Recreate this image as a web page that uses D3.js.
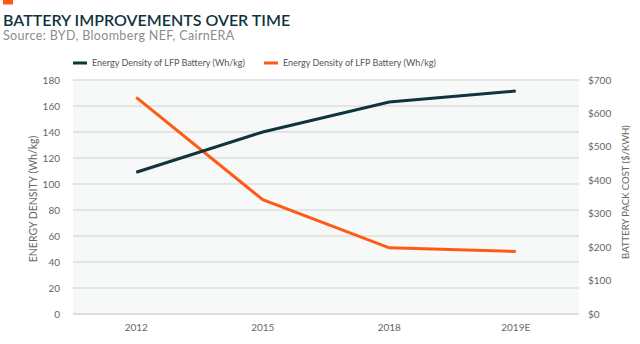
<!DOCTYPE html>
<html>
<head>
<meta charset="utf-8">
<script src="https://cdn.jsdelivr.net/npm/d3@7"></script>
<style>
  body { margin: 0; background: #fff; }
  svg text { font-family: Lato, "Open Sans", sans-serif; }
</style>
</head>
<body>
<div id="chart"></div>
<script>
let years = ["2012", "2015", "2018", "2019E"];
let densityVals = [109, 140, 163, 171.5];
let costVals = [648, 342, 198, 187];
let leftTicks = d3.range(0, 181, 20);
let rightTicks = d3.range(0, 701, 100);
let legendNames = ["Energy Density of LFP Battery (Wh/kg)", "Energy Density of LFP Battery (Wh/kg)"];

let width = 640, height = 344;
let margin = { top: 80, right: 61, bottom: 30, left: 73 };
let plotW = width - margin.left - margin.right;
let plotH = 314 - margin.top;

let dark = "#0f343d", orange = "#ff5a14";

let svg = d3.select("#chart").append("svg")
    .attr("width", width)
    .attr("height", height);

// header
svg.append("rect").attr("x", 3).attr("y", 0).attr("width", 10).attr("height", 4.5).attr("fill", orange);
svg.append("text")
    .attr("x", 3).attr("y", 26)
    .style("font-size", "16px").style("font-weight", "600")
    .style("fill", dark)
    .text("BATTERY IMPROVEMENTS OVER TIME");
svg.append("text")
    .attr("x", 3).attr("y", 40)
    .style("font-size", "12.5px")
    .style("letter-spacing", "0.35px")
    .style("fill", "#8c8c8c")
    .text("Source: BYD, Bloomberg NEF, CairnERA");

let g = svg.append("g").attr("transform", "translate(" + margin.left + "," + margin.top + ")");

let x = d3.scaleBand().domain(years).range([0, plotW]);
let yL = d3.scaleLinear().domain([0, 180]).range([plotH, 0]);
let yR = d3.scaleLinear().domain([0, 700]).range([plotH, 0]);

g.append("rect").attr("width", plotW).attr("height", plotH).attr("fill", "#f7f9f9");

// grid
g.selectAll(".grid")
    .data(leftTicks)
    .enter().append("line")
    .attr("x1", 0).attr("x2", plotW)
    .attr("y1", function(d) { return yL(d); })
    .attr("y2", function(d) { return yL(d); })
    .style("stroke", "#dddddd")
    .style("stroke-width", function(d) { return d === 0 ? 2 : 1.3; });

// left ticks
g.selectAll(".ltick")
    .data(leftTicks)
    .enter().append("text")
    .attr("x", -13)
    .attr("y", function(d) { return yL(d); })
    .attr("dy", "0.35em")
    .style("text-anchor", "end")
    .style("font-size", "10px")
    .style("fill", "#666")
    .text(function(d) { return d; });

// right ticks
g.selectAll(".rtick")
    .data(rightTicks)
    .enter().append("text")
    .attr("x", plotW + 9)
    .attr("y", function(d) { return yR(d); })
    .attr("dy", "0.35em")
    .style("font-size", "10px")
    .style("fill", "#666")
    .text(function(d) { return "$" + d; });

// x labels
g.selectAll(".xlab")
    .data(years)
    .enter().append("text")
    .attr("x", function(d) { return x(d) + x.bandwidth() / 2; })
    .attr("y", plotH + 17)
    .style("text-anchor", "middle")
    .style("font-size", "10px")
    .style("fill", "#666")
    .text(function(d) { return d; });

// axis titles
svg.append("text")
    .attr("transform", "translate(37,199) rotate(-90)")
    .style("text-anchor", "middle")
    .style("font-size", "10.5px")
    .style("fill", "#666")
    .text("ENERGY DENSITY (Wh/kg)");
svg.append("text")
    .attr("transform", "translate(629,192) rotate(-90)")
    .style("text-anchor", "middle")
    .style("font-size", "9.5px")
    .style("fill", "#666")
    .text("BATTERY PACK COST ($/KWH)");

// lines
let lineL = d3.line()
    .x(function(d, i) { return x(years[i]) + x.bandwidth() / 2; })
    .y(function(d) { return yL(d); });
let lineR = d3.line()
    .x(function(d, i) { return x(years[i]) + x.bandwidth() / 2; })
    .y(function(d) { return yR(d); });

g.append("path").datum(costVals)
    .attr("d", lineR)
    .style("fill", "none").style("stroke", orange).style("stroke-width", 3);
g.append("path").datum(densityVals)
    .attr("d", lineL)
    .style("fill", "none").style("stroke", dark).style("stroke-width", 3);

// legend
let legX = [73, 264];
let legColors = [dark, orange];
let leg = svg.selectAll(".legend")
    .data(legendNames)
    .enter().append("g")
    .attr("transform", function(d, i) { return "translate(" + legX[i] + ",63)"; });
leg.append("rect")
    .attr("x", 0).attr("y", -1.5).attr("width", 14).attr("height", 3)
    .attr("fill", function(d, i) { return legColors[i]; });
leg.append("text")
    .attr("x", 19).attr("dy", "0.35em")
    .style("font-size", "9px")
    .style("fill", "#555")
    .text(function(d) { return d; });
</script>
</body>
</html>
